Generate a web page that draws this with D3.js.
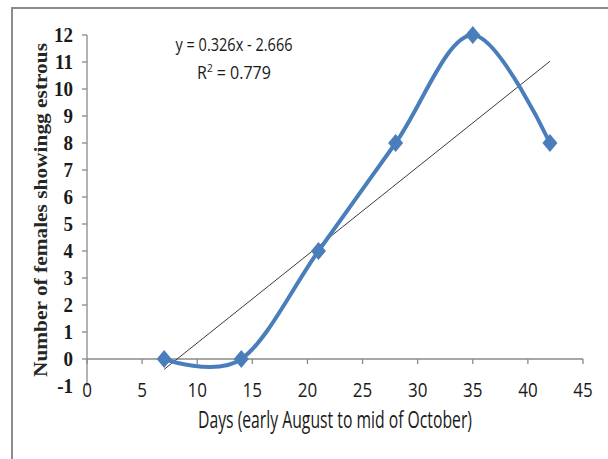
<!DOCTYPE html>
<html><head><meta charset="utf-8">
<script src="https://cdn.jsdelivr.net/npm/d3@7"></script>
<style>html,body{margin:0;padding:0;background:#fff;}svg{display:block;}</style>
</head><body>
<svg id="chart" width="608" height="459"></svg>
<script>
const days = [7, 14, 21, 28, 35, 42];
const females = [0, 0, 4, 8, 12, 8];
const xTicks = [0, 5, 10, 15, 20, 25, 30, 35, 40, 45];
const yTicks = [-1, 0, 1, 2, 3, 4, 5, 6, 7, 8, 9, 10, 11, 12];
const slope = 0.326, intercept = -2.666, r2 = 0.779;
const xTitle = "Days (early August to mid of October)";
const yTitle = "Number of females showingg estrous";

const svg = d3.select("#chart");
svg.append("rect").attr("x",12).attr("y",8).attr("width",640).attr("height",500)
  .attr("fill","#fff").attr("stroke","#8c8c8c").attr("stroke-width",2);

const x = d3.scaleLinear().domain([0,45]).range([87,583]);
const y = d3.scaleLinear().domain([-1,12]).range([386,35]);
const axisColor = "#8a8a8a";

// y axis
svg.append("line").attr("x1",x(0)).attr("x2",x(0)).attr("y1",y(-1)).attr("y2",y(12))
  .attr("stroke",axisColor).attr("stroke-width",1.3);
svg.selectAll(".ytick").data(yTicks.filter(d=>d>-1)).join("line")
  .attr("x1",x(0)-5).attr("x2",x(0)).attr("y1",d=>y(d)).attr("y2",d=>y(d))
  .attr("stroke",axisColor).attr("stroke-width",1.3);
svg.selectAll(".ylab").data(yTicks).join("text")
  .attr("x",73).attr("y",d=>y(d)).attr("dy","0.35em").attr("text-anchor","end")
  .attr("font-family","'Liberation Serif','Times New Roman',serif").attr("font-weight","bold")
  .attr("font-size",19).attr("fill","#1a1a1a")
  .attr("transform",d=>`translate(73,${y(d)}) scale(1,1.08) translate(-73,${-y(d)})`)
  .text(d=>d);

// x axis at y=0
svg.append("line").attr("x1",x(0)).attr("x2",x(45)).attr("y1",y(0)).attr("y2",y(0))
  .attr("stroke",axisColor).attr("stroke-width",1.3);
svg.selectAll(".xtick").data(xTicks).join("line")
  .attr("x1",d=>x(d)).attr("x2",d=>x(d)).attr("y1",y(0)).attr("y2",y(0)+5)
  .attr("stroke",axisColor).attr("stroke-width",1.3);
svg.selectAll(".xlab").data(xTicks).join("text")
  .attr("x",d=>x(d)).attr("y",397).attr("text-anchor","middle")
  .attr("font-family","'Liberation Sans Narrow','Open Sans',sans-serif")
  .attr("font-size",17).attr("fill","#1a1a1a")
  .attr("transform",d=>`translate(${x(d)},397) scale(1,1.2) translate(${-x(d)},-397)`)
  .text(d=>d);

// titles
svg.append("text").attr("x",335).attr("y",428).attr("text-anchor","middle")
  .attr("font-family","'Liberation Sans Narrow','Open Sans',sans-serif")
  .attr("font-size",20).attr("fill","#1a1a1a")
  .attr("textLength",274).attr("lengthAdjust","spacingAndGlyphs")
  .attr("transform","translate(335,428) scale(1,1.2) translate(-335,-428)")
  .text(xTitle);
svg.append("text").attr("transform","translate(47,210) rotate(-90) scale(1,1.1)")
  .attr("text-anchor","middle")
  .attr("font-family","'Liberation Serif','Times New Roman',serif").attr("font-weight","bold")
  .attr("font-size",17).attr("fill","#262626")
  .attr("textLength",334).attr("lengthAdjust","spacingAndGlyphs")
  .text(yTitle);

// trendline
const tx = d3.extent(days);
svg.append("line")
  .attr("x1",x(tx[0])).attr("y1",y(slope*tx[0]+intercept))
  .attr("x2",x(tx[1])).attr("y2",y(slope*tx[1]+intercept))
  .attr("stroke","#3a3a3a").attr("stroke-width",1);

// smoothed series
const pts = days.map((d,i)=>[d,females[i]]);
const line = d3.line().x(d=>x(d[0])).y(d=>y(d[1])).curve(d3.curveCatmullRom.alpha(0));
svg.append("path").attr("d",line(pts)).attr("fill","none")
  .attr("stroke","#4a7ebb").attr("stroke-width",4).attr("stroke-linejoin","round");
svg.selectAll(".mk").data(pts).join("path")
  .attr("d","M0,-9L7.5,0L0,9L-7.5,0Z")
  .attr("transform",d=>`translate(${x(d[0])},${y(d[1])})`)
  .attr("fill","#4a7ebb");

// equation
const eqFont = "'Liberation Sans Narrow','Open Sans',sans-serif";
svg.append("text").attr("x",234).attr("y",51).attr("text-anchor","middle")
  .attr("font-family",eqFont).attr("font-size",16).attr("fill","#1a1a1a")
  .attr("textLength",117).attr("lengthAdjust","spacingAndGlyphs")
  .attr("transform","translate(234,51) scale(1,1.15) translate(-234,-51)")
  .text(`y = ${slope}x - ${Math.abs(intercept)}`);
const r = svg.append("text").attr("x",234).attr("y",79).attr("text-anchor","middle")
  .attr("font-family",eqFont).attr("font-size",16).attr("fill","#1a1a1a")
  .attr("transform","translate(234,79) scale(1,1.15) translate(-234,-79)");
r.append("tspan").text("R");
r.append("tspan").attr("font-size",10).attr("dy",-6).text("2");
r.append("tspan").attr("dy",6).text(` = ${r2}`);
</script>
</body></html>
